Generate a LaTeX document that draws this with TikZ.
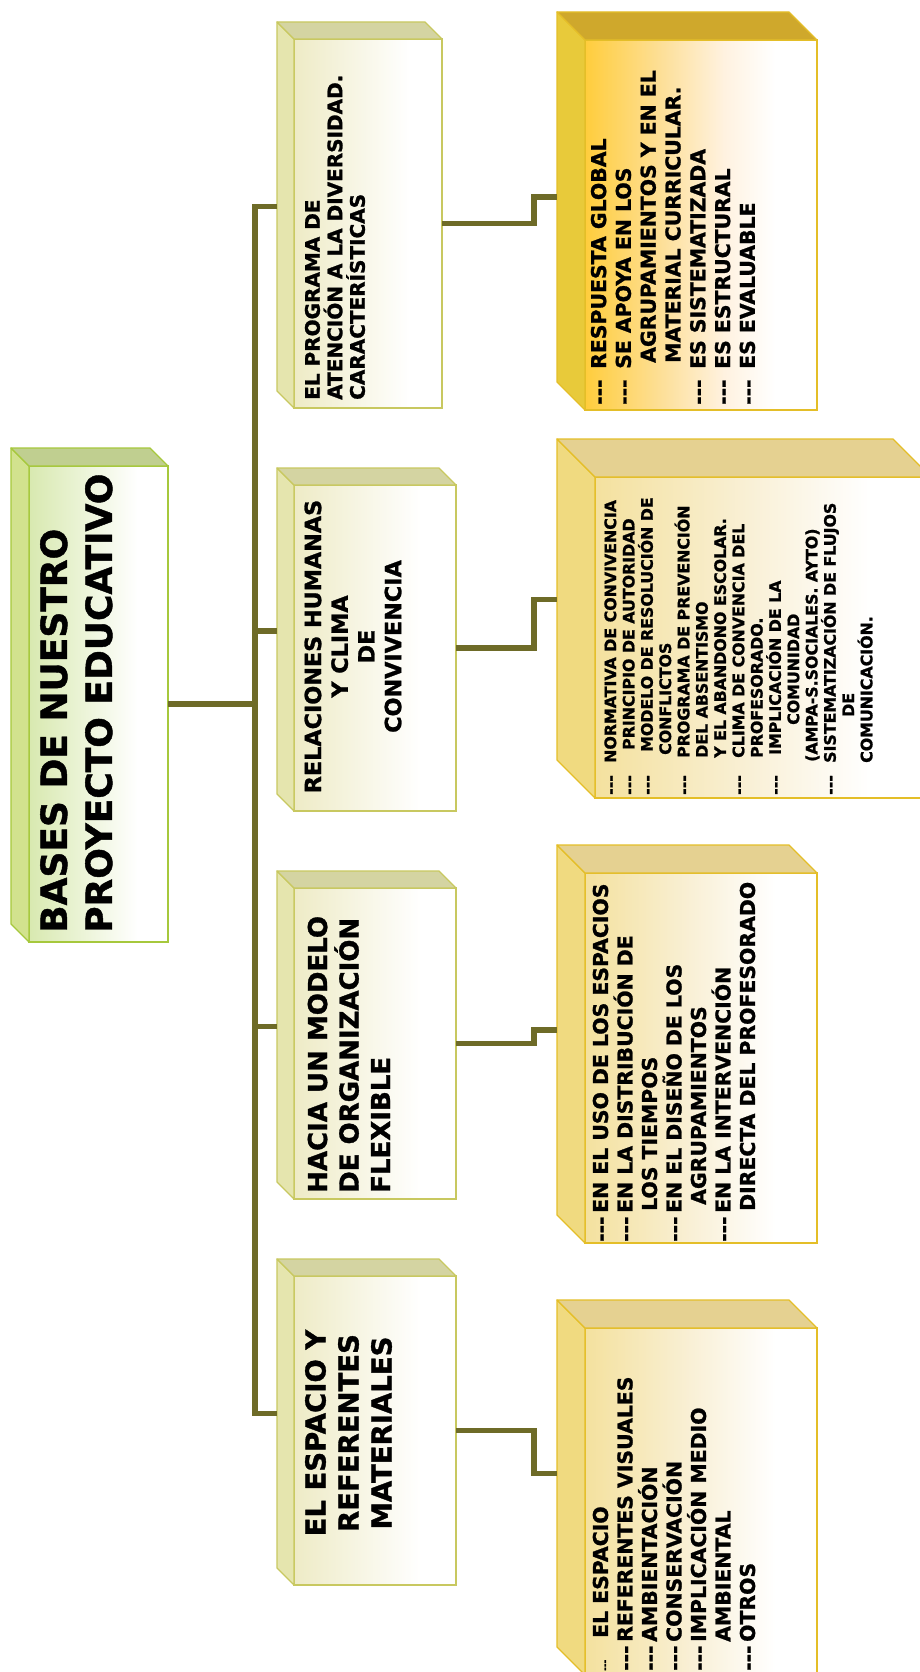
\documentclass[tikz,border=0pt]{standalone}
\usepackage{fontspec}
\setmainfont{DejaVu Sans}[BoldFeatures={FakeBold=1.2}]
\usetikzlibrary{positioning}

\definecolor{linkcol}{RGB}{110,107,40}
\definecolor{mainedge}{RGB}{166,200,60}
\definecolor{mainside}{RGB}{210,226,142}
\definecolor{maintop}{RGB}{192,207,144}
\definecolor{mainfront}{RGB}{216,233,176}
\definecolor{oneedge}{RGB}{200,200,96}
\definecolor{oneside}{RGB}{229,229,174}
\definecolor{onetop}{RGB}{212,212,162}
\definecolor{onefront}{RGB}{238,235,198}
\definecolor{goldedge}{RGB}{228,190,40}
\definecolor{goldside}{RGB}{232,202,58}
\definecolor{goldtop}{RGB}{207,168,44}
\definecolor{goldfront}{RGB}{255,205,60}
\definecolor{goldmid}{RGB}{253,224,155}
\definecolor{goldlight}{RGB}{255,242,224}
\definecolor{sandside}{RGB}{240,218,128}
\definecolor{sandtop}{RGB}{229,209,145}
\definecolor{sandfront}{RGB}{244,225,158}
\definecolor{sandmid}{RGB}{249,240,214}

\pgfdeclarehorizontalshading{mainshade}{100bp}{color(0bp)=(mainfront); color(25bp)=(mainfront); color(64bp)=(white); color(100bp)=(white)}
\pgfdeclarehorizontalshading{oneshade}{100bp}{color(0bp)=(onefront); color(25bp)=(onefront); color(64bp)=(white); color(100bp)=(white)}
\pgfdeclarehorizontalshading{goldshade}{100bp}{color(0bp)=(goldfront); color(25bp)=(goldfront); color(42bp)=(goldmid); color(55bp)=(goldlight); color(66bp)=(white); color(100bp)=(white)}
\pgfdeclarehorizontalshading{sandshade}{100bp}{color(0bp)=(sandfront); color(25bp)=(sandfront); color(48bp)=(sandmid); color(66bp)=(white); color(100bp)=(white)}

\newcommand{\dsh}{-\kern0pt-\kern0pt-}
\newcommand{\dshline}[2]{\makebox[#1pt][l]{\dsh}#2}
\newcommand{\gapline}[2]{\makebox[#1pt][l]{}#2}
% side and top faces of a box, plus its entry point
\newcommand{\facets}[5]{%
  \filldraw[fill=#3, draw=#5, line width=1.3pt, line join=round]
    (#1.north west) -- (#1.south west) -- ++(-#2,-#2) -- ([shift={(-#2,-#2)}]#1.north west) -- cycle;
  \filldraw[fill=#4, draw=#5, line width=1.3pt, line join=round]
    (#1.north west) -- (#1.north east) -- ++(-#2,-#2) -- ([shift={(-#2,-#2)}]#1.north west) -- cycle;
  \coordinate (#1-in) at ([shift={(-#2,-#2)}]#1.west);
}

\tikzset{
  link/.style={draw=linkcol, line width=5.5pt},
  face/.style={inner sep=0pt, outer sep=0pt, anchor=north west, line width=1.3pt, shade},
  mainbox/.style={face, draw=mainedge, shading=mainshade},
  onebox/.style={face, draw=oneedge, shading=oneshade},
  goldbox/.style={face, draw=goldedge, shading=goldshade},
  sandbox/.style={face, draw=goldedge, shading=sandshade},
  boxtext/.style={rotate=90, inner sep=0pt, align=left, anchor=north west},
  midtext/.style={rotate=90, inner sep=0pt, align=center, anchor=center},
}

\begin{document}
\begin{tikzpicture}[x=1pt, y=-1pt]
  \useasboundingbox (0,0) rectangle (920,1672);
  \clip (0,0) rectangle (920,1672);

  % root
  \node[mainbox, minimum width=139pt, minimum height=476pt] (main) at (29,466) {};
  \facets{main}{18}{mainside}{maintop}{mainedge}
  \node[boxtext, font=\fontsize{36}{45}\selectfont\bfseries] (mainText) at (40,933)
    {BASES DE NUESTRO\\PROYECTO EDUCATIVO};

  % first level
  \node[onebox, minimum width=148pt, minimum height=369pt] (progA) at (294,39) {};
  \facets{progA}{17}{oneside}{onetop}{oneedge}
  \node[boxtext, font=\fontsize{20}{22.5}\selectfont\bfseries] (progText) at (304.7,400)
    {EL PROGRAMA DE\\ATENCIÓN A LA DIVERSIDAD.\\CARACTERÍSTICAS};

  \node[onebox, minimum width=162pt, minimum height=326pt] (relB) at (294,485) {};
  \facets{relB}{17}{oneside}{onetop}{oneedge}
  \node[midtext, font=\fontsize{22.3}{26.7}\selectfont\bfseries] (relText) at (353,646.5)
    {RELACIONES HUMANAS\\Y CLIMA\\DE\\CONVIVENCIA};

  \node[onebox, minimum width=162pt, minimum height=311pt] (orgC) at (294,888) {};
  \facets{orgC}{17}{oneside}{onetop}{oneedge}
  \node[boxtext, font=\fontsize{26}{31.5}\selectfont\bfseries] (orgText) at (307.5,1193)
    {HACIA UN MODELO\\DE ORGANIZACIÓN\\FLEXIBLE};

  \node[onebox, minimum width=162pt, minimum height=309pt] (espD) at (294,1276) {};
  \facets{espD}{17}{oneside}{onetop}{oneedge}
  \node[midtext, font=\fontsize{27.5}{33}\selectfont\bfseries] (espText) at (348.5,1433)
    {EL ESPACIO Y\\REFERENTES\\MATERIALES};

  % second level
  \node[goldbox, minimum width=232pt, minimum height=370pt] (progList) at (585,40) {};
  \facets{progList}{28}{goldside}{goldtop}{goldedge}
  \node[boxtext, font=\fontsize{20.4}{24.8}\selectfont\bfseries] (progItems) at (590.7,405)
    {\dshline{36}{RESPUESTA GLOBAL}\\
     \dshline{36}{SE APOYA EN LOS}\\
     \gapline{42}{AGRUPAMIENTOS Y EN EL}\\
     \gapline{42}{MATERIAL CURRICULAR.}\\
     \dshline{36}{ES SISTEMATIZADA}\\
     \dshline{36}{ES ESTRUCTURAL}\\
     \dshline{36}{ES EVALUABLE}};

  \node[sandbox, minimum width=336pt, minimum height=321pt] (relList) at (595,477) {};
  \facets{relList}{38}{sandside}{sandtop}{goldedge}
  \node[boxtext, font=\fontsize{15.8}{18.3}\selectfont\bfseries] (relItems) at (604.2,795)
    {\dshline{32}{NORMATIVA DE CONVIVENCIA}\\
     \dshline{45}{PRINCIPIO DE AUTORIDAD}\\
     \dshline{43}{MODELO DE RESOLUCIÓN DE}\\
     \gapline{40}{CONFLICTOS}\\
     \dshline{37}{PROGRAMA DE PREVENCIÓN}\\
     \gapline{37}{DEL ABSENTISMO}\\
     \gapline{37}{Y EL ABANDONO ESCOLAR.}\\
     \dshline{37}{CLIMA DE CONVENCIA DEL}\\
     \gapline{37}{PROFESORADO.}\\
     \dshline{40}{IMPLICACIÓN DE LA}\\
     \gapline{70}{COMUNIDAD}\\
     \gapline{33}{(AMPA-S.SOCIALES. AYTO)}\\
     \dshline{32}{SISTEMATIZACIÓN DE FLUJOS}\\
     \gapline{78}{DE}\\
     \gapline{32}{COMUNICACIÓN.}};

  \node[sandbox, minimum width=232pt, minimum height=370pt] (orgList) at (585,873) {};
  \facets{orgList}{28}{sandside}{sandtop}{goldedge}
  \node[boxtext, font=\fontsize{20.4}{24.5}\selectfont\bfseries] (orgItems) at (592.6,1242)
    {\dshline{29}{EN EL USO DE LOS ESPACIOS}\\
     \dshline{29}{EN LA DISTRIBUCIÓN DE}\\
     \gapline{31}{LOS TIEMPOS}\\
     \dshline{29}{EN EL DISEÑO DE LOS}\\
     \gapline{37}{AGRUPAMIENTOS}\\
     \dshline{29}{EN LA INTERVENCIÓN}\\
     \gapline{31}{DIRECTA DEL PROFESORADO}};

  \node[sandbox, minimum width=232pt, minimum height=347pt] (espList) at (585,1328) {};
  \facets{espList}{28}{sandside}{sandtop}{goldedge}
  \node[boxtext, font=\fontsize{20.4}{24.5}\selectfont\bfseries] (espItems) at (592.6,1671)
    {\makebox[33pt][l]{\fontsize{9}{9}\selectfont\dsh}EL ESPACIO\\
     \dshline{29}{REFERENTES VISUALES}\\
     \dshline{29}{AMBIENTACIÓN}\\
     \dshline{29}{CONSERVACIÓN}\\
     \dshline{29}{IMPLICACIÓN MEDIO}\\
     \gapline{29}{AMBIENTAL}\\
     \dshline{29}{OTROS}};

  % connectors
  \coordinate (trunk) at (255,0);
  \coordinate (elbow) at (534,0);
  \draw[link] (main.east) -- (main.east -| trunk);
  \draw[link] (progA-in) -- (trunk |- progA-in) -- (trunk |- espD-in) -- (espD-in);
  \draw[link] (trunk |- relB-in) -- (relB-in);
  \draw[link] (trunk |- orgC-in) -- (orgC-in);
  \draw[link] (progA.east) -| (elbow |- progList-in) -- (progList-in);
  \draw[link] (relB.east) -| (elbow |- relList-in) -- (relList-in);
  \draw[link] (orgC.east) -| (elbow |- orgList-in) -- (orgList-in);
  \draw[link] (espD.east) -| (elbow |- espList-in) -- (espList-in);
\end{tikzpicture}
\end{document}
